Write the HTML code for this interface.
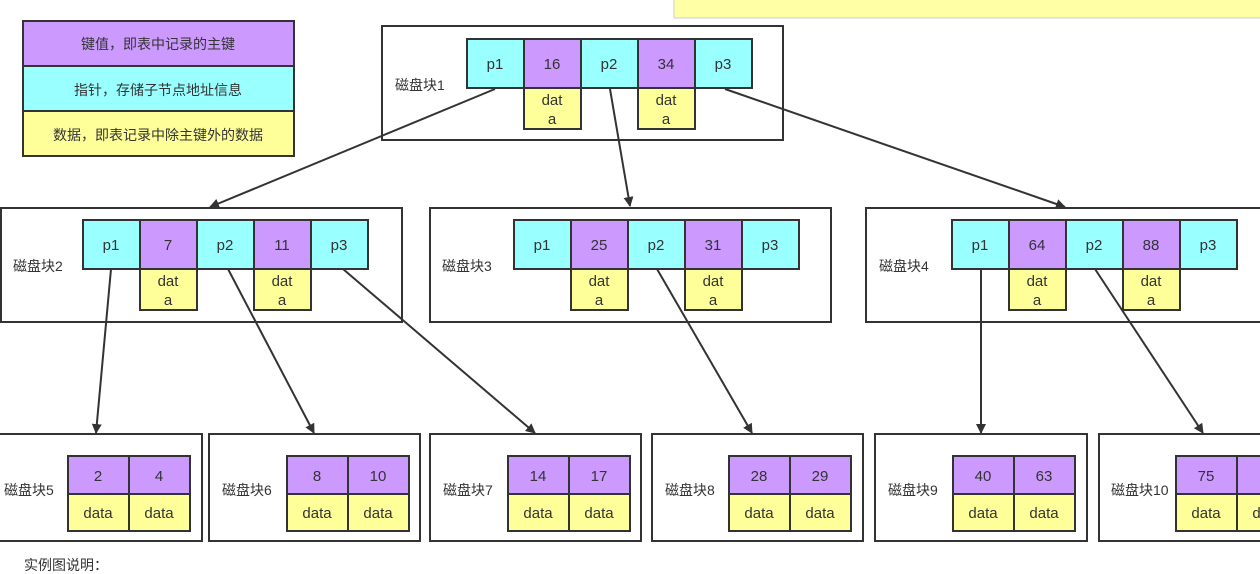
<!DOCTYPE html>
<html><head><meta charset="utf-8"><style>
html,body{margin:0;padding:0;background:#fff;}
svg{display:block;font-family:"Liberation Sans","Noto Sans CJK SC",sans-serif;}
text{fill:#333;}
.c{font-size:15px;text-anchor:middle;}
.l{font-size:14px;}
</style></head><body>
<svg width="1260" height="574" viewBox="0 0 1260 574" xmlns="http://www.w3.org/2000/svg">
<defs><marker id="a" markerWidth="10" markerHeight="10" refX="9" refY="5" orient="auto" markerUnits="userSpaceOnUse"><path d="M0,0 L10,5 L0,10 Z" fill="#333"/></marker></defs>
<rect x="674" y="-2" width="590" height="20" fill="#ffffa6" stroke="#ccc"/>
<!-- legend -->
<g stroke="#333" stroke-width="2">
<rect x="23" y="21" width="271" height="45" fill="#cc99ff"/>
<rect x="23" y="66" width="271" height="45" fill="#99ffff"/>
<rect x="23" y="111" width="271" height="45" fill="#ffff99"/>
</g>
<text class="l" x="158" y="49" text-anchor="middle">键值，即表中记录的主键</text>
<text class="l" x="158" y="95" text-anchor="middle">指针，存储子节点地址信息</text>
<text class="l" x="158" y="140" text-anchor="middle">数据，即表记录中除主键外的数据</text>

<g fill="none" stroke="#333" stroke-width="2">
<rect x="382" y="26" width="401" height="114" fill="#fff"/>
<rect x="1" y="208" width="401" height="114"/>
<rect x="430" y="208" width="401" height="114"/>
<rect x="866" y="208" width="400" height="114"/>
<rect x="-2" y="434" width="204" height="107"/>
<rect x="209" y="434" width="211" height="107"/>
<rect x="430" y="434" width="211" height="107"/>
<rect x="652" y="434" width="211" height="107"/>
<rect x="875" y="434" width="212" height="107"/>
<rect x="1099" y="434" width="170" height="107"/>
</g>
<g class="l"><text x="395" y="90">磁盘块1</text><text x="13" y="271">磁盘块2</text><text x="442" y="271">磁盘块3</text><text x="879" y="271">磁盘块4</text>
<text x="4" y="495">磁盘块5</text><text x="222" y="495">磁盘块6</text><text x="443" y="495">磁盘块7</text><text x="665" y="495">磁盘块8</text><text x="888" y="495">磁盘块9</text><text x="1111" y="495">磁盘块10</text></g>

<!-- internal nodes -->
<g stroke="#333" stroke-width="2">
<g transform="translate(467,39)">
<rect x="0" y="0" width="57" height="49" fill="#99ffff"/><rect x="57" y="0" width="57" height="49" fill="#cc99ff"/><rect x="114" y="0" width="57" height="49" fill="#99ffff"/><rect x="171" y="0" width="57" height="49" fill="#cc99ff"/><rect x="228" y="0" width="57" height="49" fill="#99ffff"/>
<rect x="57" y="49" width="57" height="41" fill="#ffff99"/><rect x="171" y="49" width="57" height="41" fill="#ffff99"/></g>
<g transform="translate(83,220)">
<rect x="0" y="0" width="57" height="49" fill="#99ffff"/><rect x="57" y="0" width="57" height="49" fill="#cc99ff"/><rect x="114" y="0" width="57" height="49" fill="#99ffff"/><rect x="171" y="0" width="57" height="49" fill="#cc99ff"/><rect x="228" y="0" width="57" height="49" fill="#99ffff"/>
<rect x="57" y="49" width="57" height="41" fill="#ffff99"/><rect x="171" y="49" width="57" height="41" fill="#ffff99"/></g>
<g transform="translate(514,220)">
<rect x="0" y="0" width="57" height="49" fill="#99ffff"/><rect x="57" y="0" width="57" height="49" fill="#cc99ff"/><rect x="114" y="0" width="57" height="49" fill="#99ffff"/><rect x="171" y="0" width="57" height="49" fill="#cc99ff"/><rect x="228" y="0" width="57" height="49" fill="#99ffff"/>
<rect x="57" y="49" width="57" height="41" fill="#ffff99"/><rect x="171" y="49" width="57" height="41" fill="#ffff99"/></g>
<g transform="translate(952,220)">
<rect x="0" y="0" width="57" height="49" fill="#99ffff"/><rect x="57" y="0" width="57" height="49" fill="#cc99ff"/><rect x="114" y="0" width="57" height="49" fill="#99ffff"/><rect x="171" y="0" width="57" height="49" fill="#cc99ff"/><rect x="228" y="0" width="57" height="49" fill="#99ffff"/>
<rect x="57" y="49" width="57" height="41" fill="#ffff99"/><rect x="171" y="49" width="57" height="41" fill="#ffff99"/></g>
</g>
<g class="c">
<text x="495" y="69">p1</text><text x="552" y="69">16</text><text x="609" y="69">p2</text><text x="666" y="69">34</text><text x="723" y="69">p3</text>
<text x="552" y="105">dat</text><text x="552" y="124">a</text><text x="666" y="105">dat</text><text x="666" y="124">a</text>
<text x="111" y="250">p1</text><text x="168" y="250">7</text><text x="225" y="250">p2</text><text x="282" y="250">11</text><text x="339" y="250">p3</text>
<text x="168" y="286">dat</text><text x="168" y="305">a</text><text x="282" y="286">dat</text><text x="282" y="305">a</text>
<text x="542" y="250">p1</text><text x="599" y="250">25</text><text x="656" y="250">p2</text><text x="713" y="250">31</text><text x="770" y="250">p3</text>
<text x="599" y="286">dat</text><text x="599" y="305">a</text><text x="713" y="286">dat</text><text x="713" y="305">a</text>
<text x="980" y="250">p1</text><text x="1037" y="250">64</text><text x="1094" y="250">p2</text><text x="1151" y="250">88</text><text x="1208" y="250">p3</text>
<text x="1037" y="286">dat</text><text x="1037" y="305">a</text><text x="1151" y="286">dat</text><text x="1151" y="305">a</text>
</g>

<!-- leaves -->
<g stroke="#333" stroke-width="2">
<g fill="#cc99ff"><rect x="68" y="456" width="61" height="38"/><rect x="129" y="456" width="61" height="38"/>
<rect x="287" y="456" width="61" height="38"/><rect x="348" y="456" width="61" height="38"/>
<rect x="508" y="456" width="61" height="38"/><rect x="569" y="456" width="61" height="38"/>
<rect x="729" y="456" width="61" height="38"/><rect x="790" y="456" width="61" height="38"/>
<rect x="953" y="456" width="61" height="38"/><rect x="1014" y="456" width="61" height="38"/>
<rect x="1176" y="456" width="61" height="38"/><rect x="1237" y="456" width="61" height="38"/></g>
<g fill="#ffff99"><rect x="68" y="494" width="61" height="37"/><rect x="129" y="494" width="61" height="37"/>
<rect x="287" y="494" width="61" height="37"/><rect x="348" y="494" width="61" height="37"/>
<rect x="508" y="494" width="61" height="37"/><rect x="569" y="494" width="61" height="37"/>
<rect x="729" y="494" width="61" height="37"/><rect x="790" y="494" width="61" height="37"/>
<rect x="953" y="494" width="61" height="37"/><rect x="1014" y="494" width="61" height="37"/>
<rect x="1176" y="494" width="61" height="37"/><rect x="1237" y="494" width="61" height="37"/></g>
</g>
<g class="c">
<text x="98" y="481">2</text><text x="159" y="481">4</text><text x="317" y="481">8</text><text x="378" y="481">10</text>
<text x="538" y="481">14</text><text x="599" y="481">17</text><text x="759" y="481">28</text><text x="820" y="481">29</text>
<text x="983" y="481">40</text><text x="1044" y="481">63</text><text x="1206" y="481">75</text>
<text x="98" y="518">data</text><text x="159" y="518">data</text><text x="317" y="518">data</text><text x="378" y="518">data</text>
<text x="538" y="518">data</text><text x="599" y="518">data</text><text x="759" y="518">data</text><text x="820" y="518">data</text>
<text x="983" y="518">data</text><text x="1044" y="518">data</text><text x="1206" y="518">data</text><text x="1267" y="518">data</text>
</g>

<!-- arrows -->
<g stroke="#333" stroke-width="2" fill="none" marker-end="url(#a)">
<line x1="495" y1="89" x2="210" y2="207"/>
<line x1="610" y1="89" x2="630" y2="206"/>
<line x1="725" y1="89" x2="1065" y2="207"/>
<line x1="111" y1="269" x2="96" y2="433"/>
<line x1="228" y1="269" x2="314" y2="433"/>
<line x1="343" y1="269" x2="535" y2="433"/>
<line x1="657" y1="269" x2="752" y2="433"/>
<line x1="981" y1="269" x2="981" y2="433"/>
<line x1="1095" y1="269" x2="1203" y2="433"/>
</g>
<text class="l" x="24" y="570">实例图说明：</text>
</svg>
</body></html>
